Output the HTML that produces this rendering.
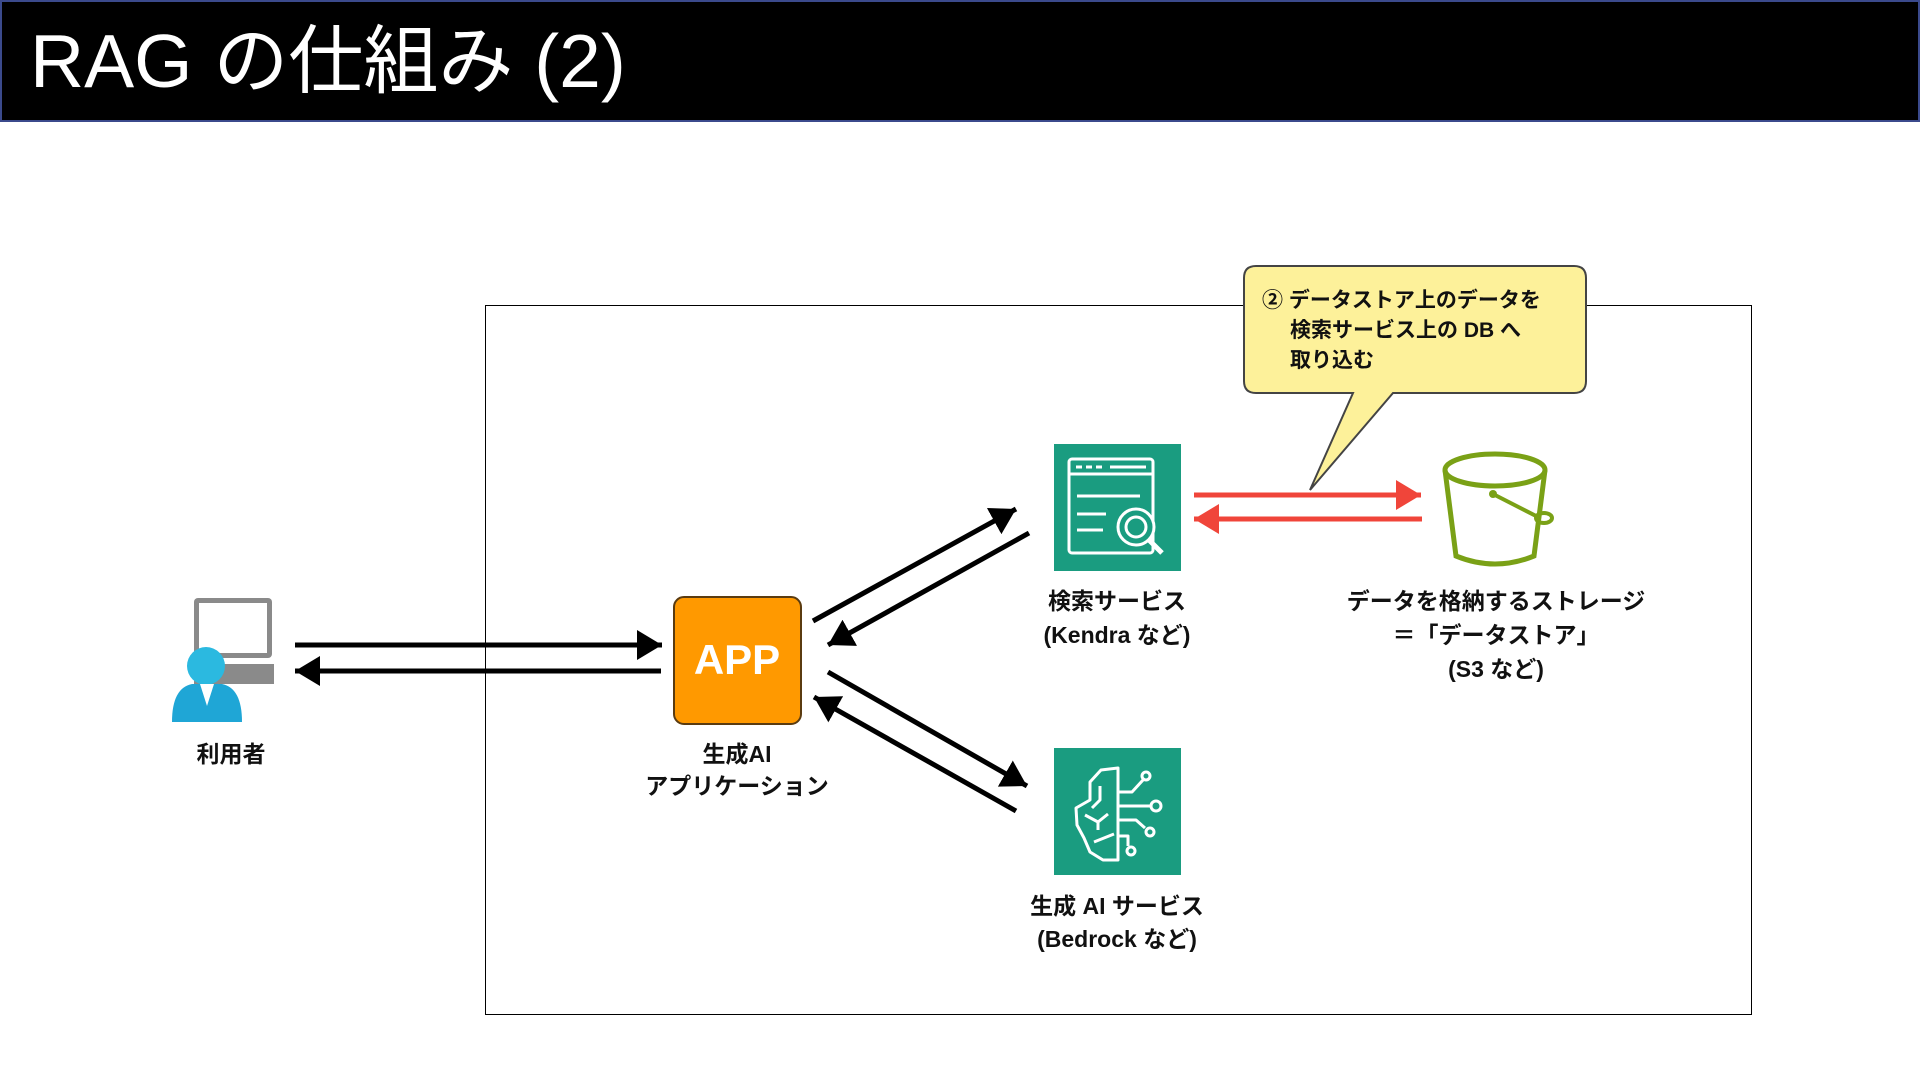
<!DOCTYPE html>
<html><head><meta charset="utf-8"><style>
html,body{margin:0;padding:0;width:1920px;height:1080px;background:#fff;overflow:hidden}
svg{display:block}
text{font-family:"Liberation Sans","Noto Sans CJK JP",sans-serif}
.t{font-weight:bold;font-size:23px;fill:#111;text-anchor:middle}
</style></head><body>
<svg width="1920" height="1080" viewBox="0 0 1920 1080">
<defs>
<marker id="ab" markerWidth="6" markerHeight="6" refX="5" refY="3" orient="auto" markerUnits="strokeWidth"><path d="M0,0 L5,3 L0,6 Z" fill="#000"/></marker>
<marker id="ar" markerWidth="6" markerHeight="6" refX="5" refY="3" orient="auto" markerUnits="strokeWidth"><path d="M0,0 L5,3 L0,6 Z" fill="#f0453a"/></marker>
</defs>
<rect x="1" y="1" width="1918" height="120" fill="#000" stroke="#3b4a8c" stroke-width="2"/>
<text x="30" y="87" font-size="75" fill="#fff" style="font-family:'Liberation Sans','Noto Sans CJK JP',sans-serif">RAG の仕組み (2)</text>

<rect x="485.5" y="305.5" width="1266" height="709" fill="none" stroke="#000" stroke-width="1"/>

<path d="M1256,266 H1574 Q1586,266 1586,278 V381 Q1586,393 1574,393 H1393 L1310,490 L1353,393 H1256 Q1244,393 1244,381 V278 Q1244,266 1256,266 Z" fill="#fdf19a" stroke="#444" stroke-width="2"/>
<text x="1262" y="307" font-size="21" font-weight="bold" fill="#111">② データストア上のデータを</text>
<text x="1290" y="337" font-size="21" font-weight="bold" fill="#111">検索サービス上の DB へ</text>
<text x="1290" y="367" font-size="21" font-weight="bold" fill="#111">取り込む</text>

<rect x="194" y="598" width="78" height="60" rx="4" fill="#8a8a8a"/>
<rect x="199" y="603" width="68" height="50" fill="#fff"/>
<rect x="194" y="664" width="80" height="20" fill="#8a8a8a"/>
<circle cx="206" cy="666" r="19" fill="#2bb9e0"/>
<path d="M172,722 Q172,688 192,684 H222 Q242,688 242,722 Z" fill="#1fa6d6"/>
<path d="M200,684 L207,706 L214,684 Z" fill="#fff"/>
<text class="t" x="231" y="762">利用者</text>

<rect x="674" y="597" width="127" height="127" rx="10" fill="#f90" stroke="#5a3b10" stroke-width="2"/>
<text x="737" y="674" font-size="42" font-weight="bold" fill="#fff" text-anchor="middle">APP</text>
<text class="t" x="737" y="762">生成AI</text>
<text class="t" x="737" y="794">アプリケーション</text>

<rect x="1054" y="444" width="127" height="127" fill="#1a9c80"/>
<g fill="none" stroke="#fff" stroke-width="3">
<rect x="1069" y="459" width="84" height="94" rx="3"/>
<line x1="1069" y1="474" x2="1153" y2="474"/>
<line x1="1076" y1="467" x2="1082" y2="467"/><line x1="1086" y1="467" x2="1092" y2="467"/><line x1="1096" y1="467" x2="1102" y2="467"/><line x1="1110" y1="467" x2="1146" y2="467"/>
<line x1="1077" y1="496" x2="1140" y2="496"/>
<line x1="1077" y1="514" x2="1106" y2="514"/>
<line x1="1077" y1="530" x2="1103" y2="530"/>
<circle cx="1136" cy="527" r="18" fill="#1a9c80"/>
<circle cx="1136" cy="527" r="10"/>
<line x1="1149" y1="540" x2="1162" y2="553" stroke-width="5"/>
</g>
<text class="t" x="1117" y="609">検索サービス</text>
<text class="t" x="1117" y="643">(Kendra など)</text>

<rect x="1054" y="748" width="127" height="127" fill="#1a9c80"/>
<g fill="none" stroke="#fff" stroke-width="3" stroke-linejoin="round">
<path d="M1118,768 L1101,770 L1090,782 L1090,800 L1076,808 L1077,825 L1084,838 L1090,852 L1103,860 L1118,860 Z"/>
<path d="M1100,786 V800 L1092,808"/><path d="M1085,815 L1098,822 L1108,814"/><path d="M1098,822 V830"/>
<path d="M1094,842 L1114,834"/>
<path d="M1118,792 H1132 L1143,780"/><circle cx="1146" cy="776" r="4"/>
<path d="M1118,806 H1150"/><circle cx="1156" cy="806" r="5"/>
<path d="M1118,820 H1136 L1145,828"/><circle cx="1150" cy="832" r="4"/>
<path d="M1118,836 H1128 V846"/><circle cx="1131" cy="851" r="4"/>
</g>
<text class="t" x="1117" y="914">生成 AI サービス</text>
<text class="t" x="1117" y="947">(Bedrock など)</text>

<g fill="none" stroke="#7aa116" stroke-width="5">
<ellipse cx="1495" cy="470" rx="50" ry="16"/>
<path d="M1445,470 L1456,556 Q1495,572 1534,556 L1545,470"/>
<path d="M1493,494 L1540,518" stroke-width="4"/>
<ellipse cx="1544" cy="518" rx="8" ry="5" stroke-width="4"/>
</g>
<circle cx="1493" cy="494" r="4" fill="#7aa116"/>
<text class="t" x="1496" y="609">データを格納するストレージ</text>
<text class="t" x="1496" y="643">＝「データストア」</text>
<text class="t" x="1496" y="677">(S3 など)</text>

<g stroke="#000" stroke-width="5" fill="none">
<line x1="295" y1="645" x2="662" y2="645" marker-end="url(#ab)"/>
<line x1="661" y1="671" x2="295" y2="671" marker-end="url(#ab)"/>
<line x1="813" y1="621" x2="1016" y2="509" marker-end="url(#ab)"/>
<line x1="1029" y1="533" x2="828" y2="645" marker-end="url(#ab)"/>
<line x1="828" y1="672" x2="1027" y2="786" marker-end="url(#ab)"/>
<line x1="1016" y1="811" x2="814" y2="697" marker-end="url(#ab)"/>
</g>
<g stroke="#f0453a" stroke-width="5" fill="none">
<line x1="1194" y1="495" x2="1421" y2="495" marker-end="url(#ar)"/>
<line x1="1422" y1="519" x2="1194" y2="519" marker-end="url(#ar)"/>
</g>
</svg>
</body></html>
